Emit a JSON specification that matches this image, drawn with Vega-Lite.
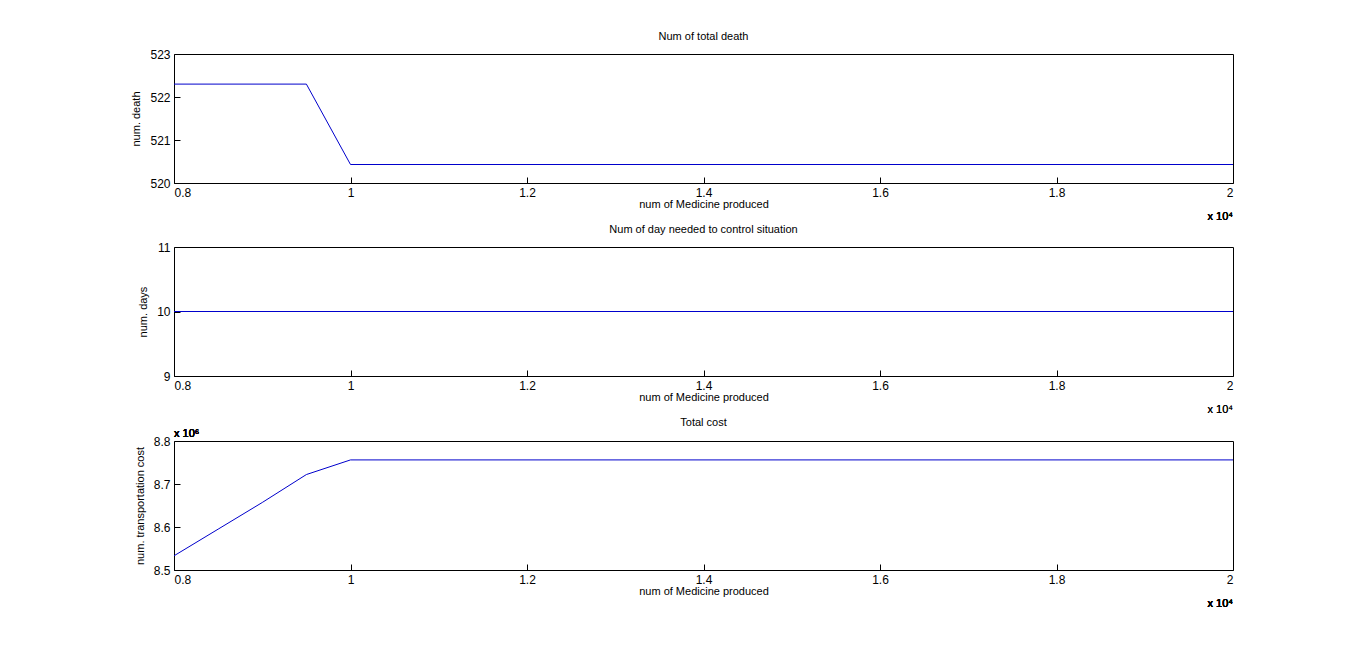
{
  "$schema": "https://vega.github.io/schema/vega-lite/v6.json",
  "background": "white",
  "padding": {"left": 130, "top": 30, "right": 120, "bottom": 10},
  "spacing": 0,
  "datasets": {
    "death": [
      {"n": 8000, "v": 522.3}, {"n": 9500, "v": 522.3}, {"n": 10000, "v": 520.43},
      {"n": 20000, "v": 520.43}
    ],
    "days": [{"n": 8000, "v": 10}, {"n": 20000, "v": 10}],
    "cost": [
      {"n": 8000, "v": 8533000}, {"n": 8500, "v": 8595000}, {"n": 9000, "v": 8657000},
      {"n": 9500, "v": 8722000}, {"n": 10000, "v": 8756000}, {"n": 20000, "v": 8756000}
    ]
  },
  "config": {
    "font": "Liberation Sans",
    "view": {"stroke": "black", "strokeWidth": 1},
    "title": {"fontSize": 11, "fontWeight": "normal", "offset": 6, "font": "Liberation Sans"},
    "axis": {
      "grid": false, "domain": false, "tickColor": "black", "tickSize": -6,
      "labelFontSize": 12, "labelColor": "black", "titleFontSize": 11,
      "titleFontWeight": "normal", "titleColor": "black", "labelPadding": 10
    },
    "text": {"fontWeight": "normal", "fontSize": 11, "color": "black"}
  },
  "vconcat": [
    {
      "width": 1059, "height": 129,
      "title": "Num of total death",
      "data": {"name": "death"},
      "layer": [
        {
          "mark": {"type": "line", "color": "#0000cc", "strokeWidth": 1},
          "encoding": {
            "x": {"field": "n", "type": "quantitative", "scale": {"domain": [8000, 20000], "nice": false},
              "axis": {"title": "num of Medicine produced", "values": [8000, 10000, 12000, 14000, 16000, 18000, 20000], "labelExpr": "datum.value / 10000", "titlePadding": 0}},
            "y": {"field": "v", "type": "quantitative", "scale": {"domain": [520, 523], "zero": false, "nice": false},
              "axis": {"title": "num. death", "values": [520, 521, 522, 523], "titlePadding": 8}}
          }
        },
        {
          "mark": {"type": "text", "align": "right", "dy": 34, "fontWeight": "normal", "text": "x 10⁴"},
          "encoding": {"x": {"datum": 20000, "type": "quantitative"}, "y": {"datum": 520, "type": "quantitative"}}
        }
      ]
    },
    {
      "width": 1059, "height": 129,
      "title": "Num of day needed to control situation",
      "data": {"name": "days"},
      "layer": [
        {
          "mark": {"type": "line", "color": "#0000cc", "strokeWidth": 1},
          "encoding": {
            "x": {"field": "n", "type": "quantitative", "scale": {"domain": [8000, 20000], "nice": false},
              "axis": {"title": "num of Medicine produced", "values": [8000, 10000, 12000, 14000, 16000, 18000, 20000], "labelExpr": "datum.value / 10000", "titlePadding": 0}},
            "y": {"field": "v", "type": "quantitative", "scale": {"domain": [9, 11], "zero": false, "nice": false},
              "axis": {"title": "num. days", "values": [9, 9.5, 10, 10.5, 11], "labelExpr": "format(datum.value, '~g')", "titlePadding": 8}}
          }
        },
        {
          "mark": {"type": "text", "align": "right", "dy": 34, "fontWeight": "normal", "text": "x 10⁴"},
          "encoding": {"x": {"datum": 20000, "type": "quantitative"}, "y": {"datum": 9, "type": "quantitative"}}
        }
      ]
    },
    {
      "width": 1059, "height": 129,
      "title": {"text": "Total cost", "offset": 0},
      "data": {"name": "cost"},
      "layer": [
        {
          "mark": {"type": "line", "color": "#0000cc", "strokeWidth": 1},
          "encoding": {
            "x": {"field": "n", "type": "quantitative", "scale": {"domain": [8000, 20000], "nice": false},
              "axis": {"title": "num of Medicine produced", "values": [8000, 10000, 12000, 14000, 16000, 18000, 20000], "labelExpr": "datum.value / 10000", "titlePadding": 0}},
            "y": {"field": "v", "type": "quantitative", "scale": {"domain": [8500000, 8800000], "zero": false, "nice": false},
              "axis": {"title": "num. transportation cost", "values": [8500000, 8600000, 8700000, 8800000], "labelExpr": "format(datum.value / 1000000, '.1f')", "titlePadding": 8}}
          }
        },
        {
          "mark": {"type": "text", "align": "right", "dy": 34, "fontWeight": "normal", "text": "x 10⁴"},
          "encoding": {"x": {"datum": 20000, "type": "quantitative"}, "y": {"datum": 8500000, "type": "quantitative"}}
        },
        {
          "mark": {"type": "text", "align": "left", "dy": -7, "fontWeight": "normal", "text": "x 10⁶"},
          "encoding": {"x": {"datum": 8000, "type": "quantitative"}, "y": {"datum": 8800000, "type": "quantitative"}}
        }
      ]
    }
  ]
}
